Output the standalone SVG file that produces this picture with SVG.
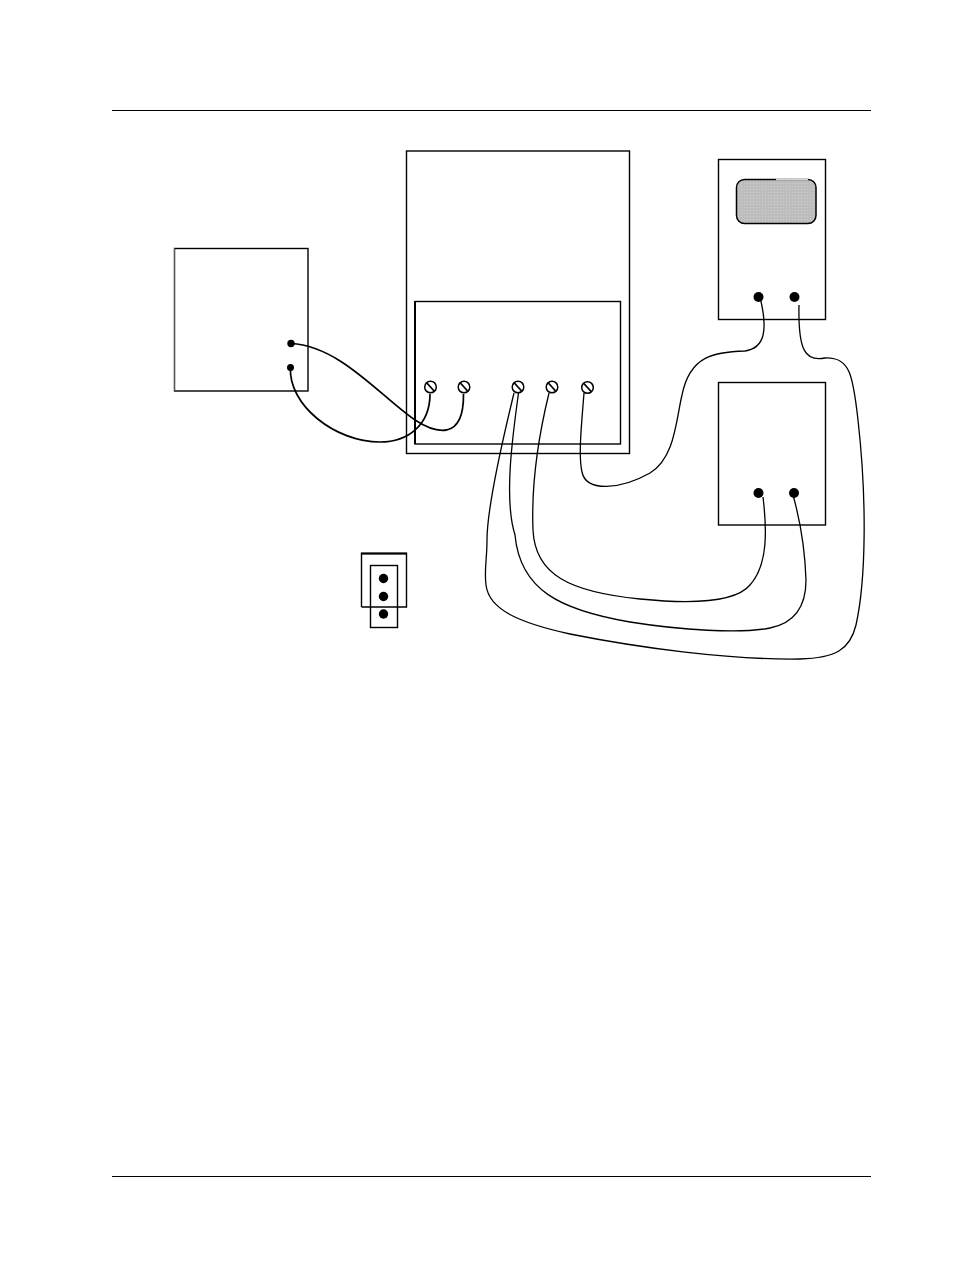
<svg xmlns="http://www.w3.org/2000/svg" width="954" height="1272" viewBox="0 0 954 1272">
<style>
.box{fill:none;stroke:#000;stroke-width:1.4}
.wire{fill:none;stroke:#000;stroke-width:1.3}
.wire2{fill:none;stroke:#000;stroke-width:1.7}
.dot{fill:#000}
.screw{fill:#fff;stroke:#000;stroke-width:1.5}
.slot{stroke:#000;stroke-width:1.8}
</style>
<defs>
<pattern id="dots" width="3" height="3" patternUnits="userSpaceOnUse"><rect width="3" height="3" fill="#bdbdbd"/><rect width="1" height="1" fill="#cfcfcf"/></pattern>
<g id="screw"><circle class="screw" r="5.8"/><line class="slot" x1="-3.6" y1="-4" x2="3.6" y2="4"/></g>
</defs>
<rect width="954" height="1272" fill="#fff"/>
<g id="rules"><line x1="112" y1="110.5" x2="871" y2="110.5" stroke="#000"/><line x1="112" y1="1176.500" x2="871" y2="1176.500" stroke="#000"/></g>
<g id="connectors">
<path class="wire2" d="M291 343.500C340 346 380 396 415 420C435 433 464 442 463.500 394"/>
<path class="wire2" d="M290.500 367C288 405 335 442 380 442C408 442 430 425 430 394"/>
<path class="wire" d="M514 393C505 430 487 505 487 540C487 560 484 570 486 585C489 610 520 623 570 634C640 648 730 660 800 659C835 658 850 650 856 625C866 580 867 500 858 420C853 375 850 357 825 358C805 362 798 350 799 305"/>
<path class="wire" d="M518.500 393C512 440 504 500 515 535C520 590 560 610 630 622C680 630 740 634 770 628C800 622 806 600 806 580C805 550 800 520 793 495"/>
<path class="wire" d="M549 393C540 430 531 480 533 530C535 575 570 592 640 599C690 604 735 603 750 585C768 565 767 530 763 497"/>
<path class="wire" d="M584 393C582 420 578 455 582 472C586 492 620 490 650 473C675 458 676 420 682 395C690 355 715 352 745 351C765 348 768 330 760 297"/>
</g>
<g id="source"><rect class="box" x="174.500" y="248.500" width="133.500" height="142.500"/><line x1="174.500" y1="248" x2="174.500" y2="391" stroke="#555" stroke-width="1"/><circle class="dot" cx="291" cy="343.500" r="3.700"/><circle class="dot" cx="290.500" cy="367.500" r="3.500"/></g>
<g id="cabinet"><rect class="box" x="406.500" y="151" width="223" height="302.500"/><rect class="box" x="415" y="301.500" width="205.500" height="142.500"/><line x1="415" y1="301" x2="415" y2="444" stroke="#000" stroke-width="2"/>
<use href="#screw" x="430.500" y="387"/><use href="#screw" x="464" y="387"/><use href="#screw" x="518" y="387"/><use href="#screw" x="552" y="387"/><use href="#screw" x="587.500" y="387.500"/></g>
<g id="scope"><rect class="box" x="718.500" y="159.500" width="107" height="160"/><rect x="736.500" y="179.500" width="79.500" height="44" rx="8" fill="url(#dots)" stroke="#000" stroke-width="1.500"/><line x1="776" y1="179.500" x2="808" y2="179.500" stroke="#d8d8d8" stroke-width="1.500"/><circle class="dot" cx="758.500" cy="297" r="5"/><circle class="dot" cx="794.500" cy="297" r="5"/></g>
<g id="meter"><rect class="box" x="718.500" y="382.500" width="107" height="142.500"/><circle class="dot" cx="758.500" cy="493" r="5"/><circle class="dot" cx="794" cy="493" r="5"/></g>
<g id="connector"><path class="box" d="M361.500 607V553.500H406.500V607H361.500"/><line x1="361" y1="553.500" x2="407" y2="553.500" stroke="#000" stroke-width="2"/><rect class="box" x="370.500" y="565.500" width="27" height="62"/><circle class="dot" cx="383.500" cy="578.500" r="4.700"/><circle class="dot" cx="383.500" cy="596.500" r="4.700"/><circle class="dot" cx="383.500" cy="614" r="4.700"/></g>
</svg>
